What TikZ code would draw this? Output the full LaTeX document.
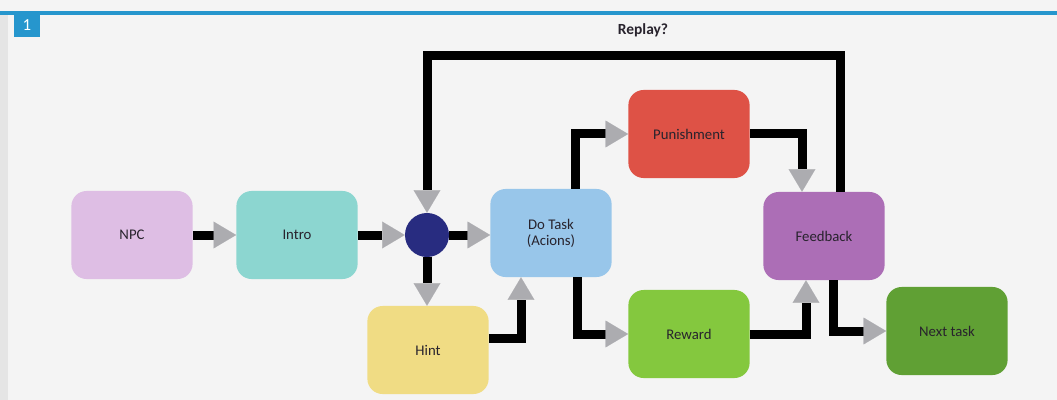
\documentclass[tikz,border=0pt]{standalone}
\usepackage{fontspec}
\setmainfont{Carlito}
\usetikzlibrary{arrows.meta,calc}

\definecolor{npccol}{RGB}{222,190,228}
\definecolor{introcol}{RGB}{140,214,208}
\definecolor{taskcol}{RGB}{152,198,234}
\definecolor{hintcol}{RGB}{240,220,132}
\definecolor{punishcol}{RGB}{222,82,70}
\definecolor{rewardcol}{RGB}{132,200,62}
\definecolor{feedcol}{RGB}{172,110,182}
\definecolor{nextcol}{RGB}{96,160,52}
\definecolor{hubcol}{RGB}{40,44,128}
\definecolor{tipgray}{RGB}{172,172,176}
\definecolor{headblue}{RGB}{38,150,205}
\definecolor{txtcol}{RGB}{40,35,45}
\definecolor{paper}{RGB}{244,244,244}

\tikzset{
  box/.style={rounded corners=0.38cm, minimum width=3.03cm, minimum height=2.2cm,
    inner sep=0pt, align=center, text=txtcol, font=\fontsize{10.5}{11.5}\selectfont},
  flow/.style={line width=6.4pt, black,
    -{Triangle[length=16pt,width=19pt,line width'=0.1pt,color=tipgray]}},
}

\begin{document}
\begin{tikzpicture}[x=0.025cm,y=-0.025cm]
\fill[paper] (0,0) rectangle (1057,400);
\useasboundingbox (0,0) rectangle (1057,400);
\fill[gray!20] (0,14) rectangle (8,400);
\draw[headblue, line width=2.6pt] (0,13) -- (1057,13);
\fill[headblue] (14,13) rectangle (40,37);
\node[white, font=\large] (num) at (27,25) {1};

% boxes
\node[box, fill=npccol] (npc) at (132,235) {NPC};
\node[box, fill=introcol] (intro) at (297,235) {Intro};
\node[circle, fill=hubcol, minimum size=1.1cm, inner sep=0pt] (hub) at (427,235) {};
\node[box, fill=taskcol] (dotask) at (551,233) {Do Task\\(Acions)};
\node[box, fill=hintcol] (hint) at (428,350) {Hint};
\node[box, fill=punishcol] (punish) at (689,134) {Punishment};
\node[box, fill=rewardcol] (reward) at (689,334) {Reward};
\node[box, fill=feedcol] (feedback) at (824,236) {Feedback};
\node[box, fill=nextcol] (next) at (947,331) {Next task};
\node[font=\fontsize{11}{12}\selectfont\bfseries, text=txtcol] (replay) at (643,30) {Replay?};
\coordinate (loop) at (643,56);

% arrows
\draw[flow] (npc) -- (intro);
\draw[flow] (intro) -- (hub);
\draw[flow] (hub) -- (hub -| dotask.west);
\draw[flow] (hub) -- (hub |- hint.north);
\draw[flow] ($(feedback.north)+(16,0)$) |- (loop) -| (hub);
\draw[flow] ($(hint.east)+(0,-12)$) -| ($(dotask.south)+(-30,0)$);
\draw[flow] ($(dotask.north)+(24,0)$) |- (punish.west);
\draw[flow] ($(dotask.south)+(26,0)$) |- (reward.west);
\draw[flow] (punish.east) -| ($(feedback.north)+(-22,0)$);
\draw[flow] (reward.east) -| ($(feedback.south)+(-18,0)$);
\draw[flow] ($(feedback.south)+(9,0)$) |- (next.west);

\end{tikzpicture}
\end{document}
